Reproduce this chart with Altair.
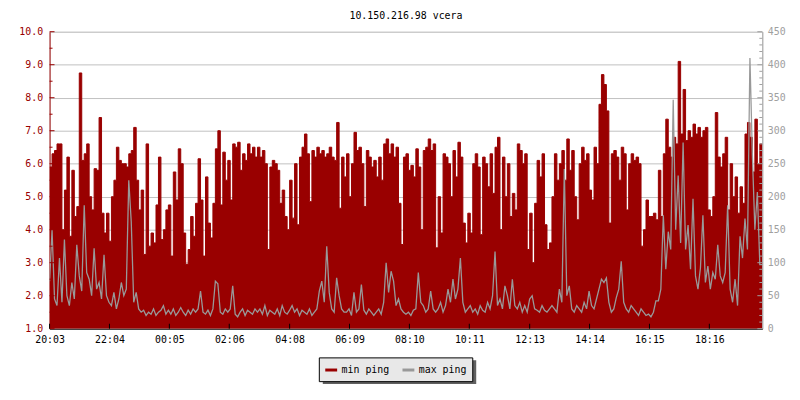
import altair as alt
import pandas as pd

title_text = "10.150.216.98 vcera"
series_names = ["min ping", "max ping"]
series_colors = ["#990000", "#999999"]

start_label = "20:03"
x_tick_labels = ["20:03", "22:04", "00:05", "02:06", "04:08", "06:09",
                 "08:10", "10:11", "12:13", "14:14", "16:15", "18:16"]

left_major = [1.0, 2.0, 3.0, 4.0, 5.0, 6.0, 7.0, 8.0, 9.0, 10.0]
left_minor = [1.5, 2.5, 3.5, 4.5, 5.5, 6.5, 7.5, 8.5, 9.5]
right_major = [0, 50, 100, 150, 200, 250, 300, 350, 400, 450]
right_minor = [10, 20, 30, 40, 60, 70, 80, 90, 110, 120, 130, 140, 160, 170, 180, 190,
               210, 220, 230, 240, 260, 270, 280, 290, 310, 320, 330, 340,
               360, 370, 380, 390, 410, 420, 430, 440]

step_minutes = 5
total_minutes = 1440

min_ping = [
    5.9, 6.3, 6.4, 6.6, 6.6, 4.0, 5.2, 6.2, 3.8, 5.8, 4.4, 4.7,
    8.75, 6.1, 6.3, 6.6, 5.0, 4.6, 5.85, 5.8, 7.4, 4.5, 3.9, 4.5,
    3.65, 5.0, 5.5, 6.5, 6.1, 6.0, 6.0, 5.9, 6.3, 6.4, 7.1, 5.5,
    4.6, 5.2, 3.25, 6.6, 3.5, 3.9, 3.6, 4.75, 6.2, 3.7, 4.0, 4.6,
    4.75, 3.2, 5.75, 4.9, 6.45, 6.0, 3.9, 2.95, 3.4, 4.4, 3.8, 4.8,
    6.15, 4.9, 3.2, 5.6, 4.2, 3.75, 4.8, 6.45, 7.0, 4.75, 6.35, 5.5,
    6.1, 4.9, 6.6, 6.5, 6.65, 5.8, 6.3, 6.1, 6.6, 6.3, 6.5, 6.2,
    6.5, 6.2, 6.4, 6.0, 3.4, 5.9, 6.1, 6.0, 5.8, 4.8, 5.2, 4.4,
    4.0, 5.5, 4.35, 6.0, 4.15, 6.2, 6.5, 6.9, 6.3, 4.85, 6.4, 6.2,
    6.5, 6.3, 6.4, 6.2, 6.3, 6.5, 6.2, 6.1, 7.25, 4.65, 6.2, 5.6,
    6.3, 5.0, 6.0, 6.95, 6.4, 6.5, 6.0, 4.7, 6.4, 6.2, 5.9, 6.1,
    5.6, 6.2, 5.5, 6.6, 6.75, 6.3, 6.6, 6.2, 6.5, 4.8, 3.55, 6.2,
    6.3, 5.8, 5.95, 5.6, 6.45, 5.9, 4.0, 6.4, 6.5, 6.75, 6.4, 6.6,
    3.45, 5.0, 3.9, 6.3, 6.2, 6.0, 5.0, 6.4, 5.6, 6.65, 6.2, 4.2,
    3.6, 4.5, 3.9, 6.0, 6.3, 5.9, 3.85, 6.2, 6.0, 5.3, 6.3, 5.1,
    6.5, 6.8, 4.0, 6.2, 5.0, 6.0, 4.4, 5.1, 4.6, 6.6, 6.4, 6.0,
    6.3, 3.4, 4.5, 3.0, 4.8, 6.1, 5.6, 6.3, 4.15, 3.4, 3.6, 5.0,
    6.3, 5.5, 6.0, 6.4, 5.5, 6.75, 5.8, 6.4, 5.0, 4.3, 6.0, 6.5,
    6.1, 6.3, 5.2, 4.9, 6.5, 6.0, 7.8, 8.7, 8.4, 7.6, 4.2, 6.3,
    6.4, 6.2, 5.5, 6.5, 6.3, 4.6, 6.0, 6.3, 6.1, 6.2, 6.0, 3.5,
    4.0, 4.9, 4.4, 4.4, 4.5, 4.3, 5.8, 4.4, 6.3, 7.35, 6.5, 6.2,
    6.8, 6.6, 9.1, 6.9, 8.25, 6.7, 7.0, 6.8, 7.2, 6.9, 7.1, 6.8,
    7.0, 7.1, 4.6, 4.4, 5.0, 7.55, 6.2, 5.9, 6.3, 6.8, 4.6, 6.0,
    5.0, 5.6, 4.5, 5.3, 4.8, 6.9, 7.25, 6.8, 5.75, 7.35, 6.0, 6.6,
]

max_ping = [
    72, 150, 45, 35, 107, 40, 135, 50, 35, 70, 45, 127,
    80, 57, 187, 85, 75, 50, 122, 60, 70, 45, 112, 50,
    40, 35, 55, 30, 45, 70, 50, 60, 225, 162, 40, 55,
    30, 25, 28, 20, 25, 22, 30, 20, 25, 28, 35, 22,
    28, 22, 30, 20, 25, 32, 25, 20, 28, 22, 30, 25,
    30, 57, 25, 22, 28, 20, 30, 72, 68, 25, 22, 30,
    25, 30, 65, 22, 18, 25, 30, 20, 28, 25, 22, 30,
    25, 30, 22, 35, 20, 28, 25, 22, 30, 20, 35, 25,
    22, 28, 35, 25, 30, 20, 28, 25, 22, 30, 20, 25,
    30, 57, 72, 40, 125, 55, 30, 25, 77, 50, 30, 25,
    25, 30, 20, 55, 25, 30, 67, 28, 22, 30, 25, 20,
    25, 30, 22, 40, 100, 55, 87, 72, 35, 45, 30, 25,
    22, 25, 20, 28, 30, 85, 40, 35, 25, 30, 57, 30,
    25, 30, 40, 25, 35, 60, 40, 75, 45, 60, 107, 40,
    25, 30, 35, 25, 30, 22, 35, 28, 25, 40, 30, 50,
    117, 35, 45, 30, 65, 50, 30, 75, 35, 30, 40, 25,
    35, 25, 45, 50, 30, 28, 25, 35, 28, 25, 30, 35,
    30, 25, 60, 40, 242, 50, 65, 30, 25, 35, 30, 25,
    40, 30, 57, 35, 30, 45, 60, 75, 70, 77, 40, 25,
    30, 47, 60, 102, 40, 30, 25, 35, 30, 25, 20, 30,
    25, 20, 22, 18, 25, 42, 42, 60, 172, 90, 147, 120,
    347, 150, 232, 130, 282, 120, 157, 90, 197, 80, 60, 92,
    172, 70, 95, 60, 85, 75, 127, 80, 70, 85, 187, 60,
    40, 75, 35, 140, 107, 167, 120, 410, 262, 150, 207, 97,
]

FONT = "DejaVu Sans Mono"


def to_min(s):
    h, m = s.split(":")
    return int(h) * 60 + int(m)


start_min = to_min(start_label)
tick_minutes = [(to_min(s) - start_min) % 1440 for s in x_tick_labels]

t = [i * step_minutes for i in range(len(min_ping))] + [total_minutes]
df_min = pd.DataFrame({"t": t, "v": min_ping + [min_ping[-1]], "series": series_names[0]})
df_max = pd.DataFrame({"t": t, "v": max_ping + [max_ping[-1]], "series": series_names[1]})

xscale = alt.Scale(domain=[0, total_minutes], nice=False, zero=False)
lscale = alt.Scale(domain=[1, 10], nice=False, zero=False)
rscale = alt.Scale(domain=[0, 450], nice=False, zero=False)
cscale = alt.Scale(domain=series_names, range=series_colors)

label_expr = (f"format(floor((({start_min}+datum.value)%1440)/60),'02d') + ':' + "
              f"format(({start_min}+datum.value)%60,'02d')")

x_axis = alt.Axis(values=tick_minutes, labelExpr=label_expr, ticks=False, grid=False,
                  domainColor="black", labelColor="black", labelPadding=6, labelFlush=False,
                  labelFont=FONT, labelFontSize=10, title=None)

area = alt.Chart(df_min).mark_area(interpolate="step-after", color="#990000", clip=True).encode(
    x=alt.X("t:Q", scale=xscale, axis=x_axis),
    y=alt.Y("v:Q", scale=lscale,
            axis=alt.Axis(orient="left", values=left_major, format=".1f", labelColor="#990000",
                          domainColor="#990000", ticks=False, labelPadding=7, grid=True,
                          gridColor="#c0c0c0", labelFont=FONT, labelFontSize=10, title=None)),
    y2=alt.datum(1.0),
)

legend = alt.Legend(orient="none", legendX=272, legendY=329, direction="horizontal",
                    title=None, fillColor="#e8e8e8", strokeColor="black", padding=5,
                    symbolType="stroke", symbolSize=144, symbolStrokeWidth=3,
                    labelFont=FONT, labelFontSize=10, labelColor="black", labelOffset=3,
                    columnPadding=6,
                    labelExpr="datum.label == 'max ping' ? datum.label + '    ' : datum.label")

min_line = alt.Chart(df_min).mark_line(interpolate="step-after", strokeWidth=1, clip=True).encode(
    x=alt.X("t:Q", scale=xscale),
    y=alt.Y("v:Q", scale=lscale, axis=None),
    color=alt.Color("series:N", scale=cscale, legend=legend),
)

max_line = alt.Chart(df_max).mark_line(interpolate="linear", strokeWidth=1.3, clip=True).encode(
    x=alt.X("t:Q", scale=xscale),
    y=alt.Y("v:Q", scale=rscale,
            axis=alt.Axis(orient="right", values=right_major, labelColor="#a0a0a0",
                          domainColor="#a0a0a0", ticks=False, labelPadding=5, grid=False,
                          labelFont=FONT, labelFontSize=10, title=None)),
    color=alt.Color("series:N", scale=cscale, legend=legend),
)

df_lmaj = pd.DataFrame({"y": left_major})
df_lmin = pd.DataFrame({"y": left_minor})
df_rmaj = pd.DataFrame({"y": right_major})
df_rmin = pd.DataFrame({"y": right_minor})
df_xt = pd.DataFrame({"t": tick_minutes})

lt_major = alt.Chart(df_lmaj).mark_rule(color="#990000").encode(
    y=alt.Y("y:Q", scale=lscale, axis=None), x=alt.value(0), x2=alt.value(5))
lt_minor = alt.Chart(df_lmin).mark_rule(color="#990000").encode(
    y=alt.Y("y:Q", scale=lscale, axis=None), x=alt.value(0), x2=alt.value(3))
rt_major = alt.Chart(df_rmaj).mark_rule(color="#a0a0a0").encode(
    y=alt.Y("y:Q", scale=rscale, axis=None), x=alt.value(715), x2=alt.value(720))
rt_minor = alt.Chart(df_rmin).mark_rule(color="#a0a0a0").encode(
    y=alt.Y("y:Q", scale=rscale, axis=None), x=alt.value(717), x2=alt.value(720))
xt = alt.Chart(df_xt).mark_rule(color="black").encode(
    x=alt.X("t:Q", scale=xscale), y=alt.value(295), y2=alt.value(300))

shadow = alt.Chart(pd.DataFrame({"a": [0]})).mark_rect(color="#606060", clip=False).encode(
    x=alt.value(276), x2=alt.value(431), y=alt.value(332), y2=alt.value(356))

chart = alt.layer(
    area, min_line, max_line, lt_major, lt_minor, rt_major, rt_minor, xt, shadow
).resolve_scale(y="independent").properties(
    width=720, height=300,
    title=alt.Title(title_text, font=FONT, fontSize=10, fontWeight="normal", color="black",
                    anchor="middle", offset=6),
    autosize=alt.AutoSizeParams(type="none"),
    padding={"left": 42, "top": 22, "right": 30, "bottom": 62},
).configure_view(stroke=None).configure(background="white")

chart.save("out.html", embed_options={"renderer": "svg", "actions": False})
